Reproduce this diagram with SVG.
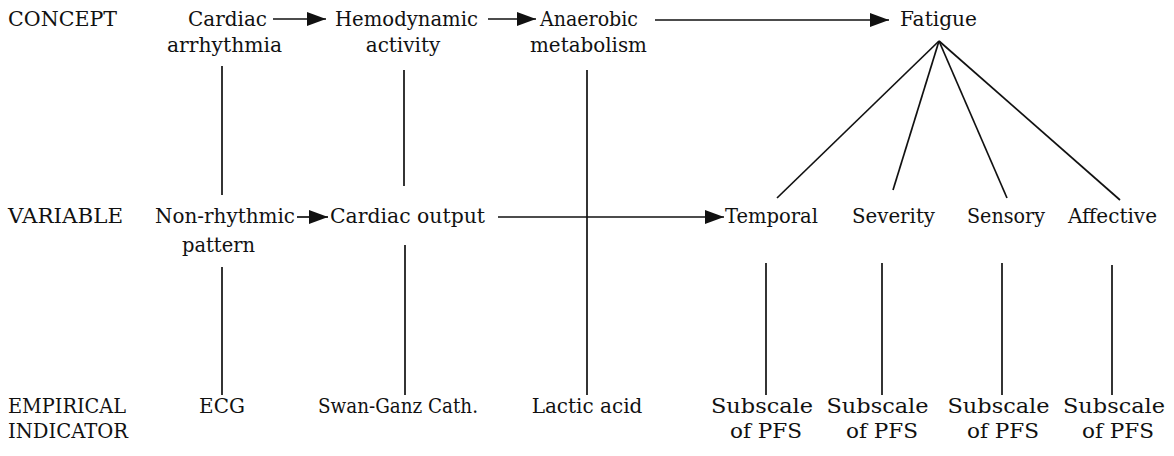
<svg xmlns="http://www.w3.org/2000/svg" width="1174" height="456" viewBox="0 0 1174 456">
<style>
text{font-family:"DejaVu Serif","Liberation Serif",serif;font-size:20px;fill:#111}
.c{text-anchor:middle}
.l{stroke:#111;stroke-width:1.7;fill:none}
</style>
<defs>
<marker id="ah" viewBox="0 0 19 14" refX="19" refY="7" markerWidth="19" markerHeight="14" markerUnits="userSpaceOnUse" orient="auto"><path d="M0,0 L19,7 L0,14 Z" fill="#111"/></marker>
</defs>
<rect width="1174" height="456" fill="#fff"/>
<g id="row-labels">
<text x="8" y="26" textLength="109" lengthAdjust="spacingAndGlyphs">CONCEPT</text>
<text x="8" y="223" textLength="115" lengthAdjust="spacingAndGlyphs">VARIABLE</text>
<text x="8" y="413" textLength="118" lengthAdjust="spacingAndGlyphs">EMPIRICAL</text>
<text x="8" y="438" textLength="120" lengthAdjust="spacingAndGlyphs">INDICATOR</text>
</g>
<g id="n-cardiac-arrhythmia"><text class="c" x="227.5" y="26" textLength="79" lengthAdjust="spacingAndGlyphs">Cardiac</text><text class="c" x="224.5" y="52" textLength="115" lengthAdjust="spacingAndGlyphs">arrhythmia</text></g>
<g id="n-hemodynamic"><text class="c" x="406.5" y="26" textLength="143" lengthAdjust="spacingAndGlyphs">Hemodynamic</text><text class="c" x="403" y="52">activity</text></g>
<g id="n-anaerobic"><text class="c" x="589" y="26" textLength="98" lengthAdjust="spacingAndGlyphs">Anaerobic</text><text class="c" x="588.5" y="52" textLength="117" lengthAdjust="spacingAndGlyphs">metabolism</text></g>
<g id="n-fatigue"><text class="c" x="938.5" y="26" textLength="77" lengthAdjust="spacingAndGlyphs">Fatigue</text></g>
<g id="n-nonrhythmic"><text x="155" y="223" textLength="140" lengthAdjust="spacingAndGlyphs">Non-rhythmic</text><text class="c" x="218.5" y="252" textLength="73" lengthAdjust="spacingAndGlyphs">pattern</text></g>
<g id="n-cardiac-output"><text x="330" y="223" textLength="155" lengthAdjust="spacingAndGlyphs">Cardiac output</text></g>
<g id="n-temporal"><text x="725" y="223" textLength="93" lengthAdjust="spacingAndGlyphs">Temporal</text></g>
<g id="n-severity"><text x="852" y="223" textLength="83" lengthAdjust="spacingAndGlyphs">Severity</text></g>
<g id="n-sensory"><text x="967" y="223" textLength="78" lengthAdjust="spacingAndGlyphs">Sensory</text></g>
<g id="n-affective"><text x="1068" y="223" textLength="89" lengthAdjust="spacingAndGlyphs">Affective</text></g>
<g id="n-ecg"><text class="c" x="222" y="413">ECG</text></g>
<g id="n-swan"><text class="c" x="398" y="413" textLength="160" lengthAdjust="spacingAndGlyphs">Swan-Ganz Cath.</text></g>
<g id="n-lactic"><text class="c" x="587" y="413">Lactic acid</text></g>
<g id="n-pfs1"><text class="c" x="762" y="413" textLength="102" lengthAdjust="spacingAndGlyphs">Subscale</text><text class="c" x="766" y="438" textLength="72" lengthAdjust="spacingAndGlyphs">of PFS</text></g>
<g id="n-pfs2"><text class="c" x="877.5" y="413" textLength="102" lengthAdjust="spacingAndGlyphs">Subscale</text><text class="c" x="882" y="438" textLength="72" lengthAdjust="spacingAndGlyphs">of PFS</text></g>
<g id="n-pfs3"><text class="c" x="998.5" y="413" textLength="102" lengthAdjust="spacingAndGlyphs">Subscale</text><text class="c" x="1003" y="438" textLength="72" lengthAdjust="spacingAndGlyphs">of PFS</text></g>
<g id="n-pfs4"><text class="c" x="1114" y="413" textLength="102" lengthAdjust="spacingAndGlyphs">Subscale</text><text class="c" x="1118" y="438" textLength="72" lengthAdjust="spacingAndGlyphs">of PFS</text></g>
<g id="connectors" class="l">
<line x1="273" y1="19" x2="326" y2="19" marker-end="url(#ah)"/>
<line x1="488" y1="19" x2="536" y2="19" marker-end="url(#ah)"/>
<line x1="655" y1="20" x2="889" y2="20" marker-end="url(#ah)"/>
<line x1="297" y1="217" x2="328" y2="217" marker-end="url(#ah)"/>
<line x1="498" y1="217" x2="724" y2="217" marker-end="url(#ah)"/>
<line x1="222" y1="66" x2="222" y2="195"/>
<line x1="404" y1="70" x2="404" y2="186"/>
<line x1="587" y1="70" x2="587" y2="395"/>
<line x1="222" y1="267" x2="222" y2="395"/>
<line x1="405" y1="245" x2="405" y2="395"/>
<line x1="939" y1="41" x2="777" y2="198"/>
<line x1="939" y1="41" x2="893" y2="190"/>
<line x1="939" y1="41" x2="1007" y2="198"/>
<line x1="939" y1="41" x2="1120" y2="200"/>
<line x1="766" y1="263" x2="766" y2="395"/>
<line x1="882" y1="263" x2="882" y2="395"/>
<line x1="1002" y1="263" x2="1002" y2="395"/>
<line x1="1112" y1="265" x2="1112" y2="395"/>
</g>
</svg>
